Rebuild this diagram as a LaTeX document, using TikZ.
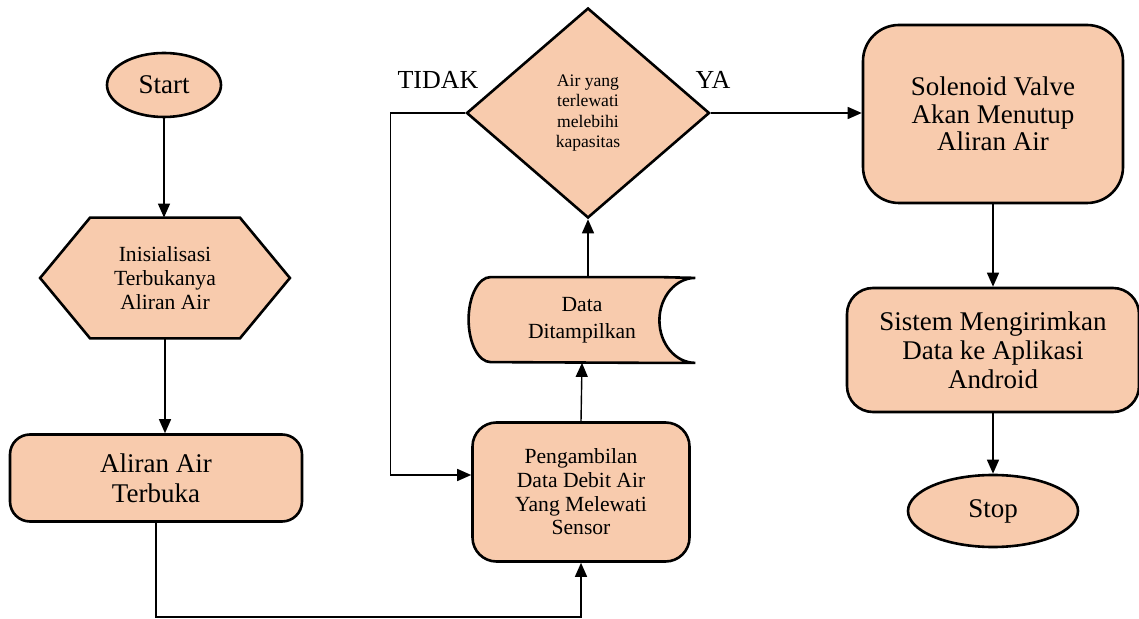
\documentclass[tikz,border=0pt]{standalone}
\usepackage{fontspec}
\setmainfont{Liberation Serif}
\usetikzlibrary{shapes.geometric,arrows.meta,backgrounds}
\definecolor{peach}{HTML}{F8CBAD}

\begin{document}
\begin{tikzpicture}[x=0.5pt,y=-0.5pt,
   shp/.style={draw, line width=1.3pt, fill=peach},
   big/.style={font=\fontsize{13.5}{13.8}\selectfont},
   small/.style={font=\fontsize{10.8}{12}\selectfont},
   terminal/.style={shp, ellipse, inner sep=0pt, big},
   proc/.style={shp, rectangle, align=center, inner sep=0pt},
   arr/.style={draw, line width=0.7pt, -{Triangle[length=7pt,width=6pt]}}]

\useasboundingbox (0,0) rectangle (1139,619);

\node[terminal, minimum width=57pt, minimum height=32pt] (start) at (164,85) {Start};
\node[align=center, inner sep=0pt, minimum width=124.5pt, minimum height=60pt, small] (ini) at (165,278)
    {Inisialisasi\\Terbukanya\\Aliran Air};
\node[proc, rounded corners=10pt, minimum width=146pt, minimum height=43.5pt,
      font=\fontsize{13.5}{14.8}\selectfont] (buka) at (156,478) {Aliran Air\\Terbuka};
\node[proc, rounded corners=12pt, minimum width=108.5pt, minimum height=69.5pt,
      font=\fontsize{10.8}{11.8}\selectfont] (ambil) at (581,492)
    {Pengambilan\\Data Debit Air\\Yang Melewati\\Sensor};
\node[align=center, inner sep=0pt, minimum width=113pt, minimum height=42.5pt,
      font=\fontsize{10.8}{13.5}\selectfont] (tampil) at (582,320) {Data\\Ditampilkan};
\node[shp, diamond, align=center, inner sep=0pt, minimum width=121.5pt, minimum height=105pt,
      font=\fontsize{8.8}{10.3}\selectfont] (cek) at (588,113)
    {Air yang\\terlewati\\melebihi\\kapasitas};
\node[proc, big, rounded corners=18pt, minimum width=130pt, minimum height=89pt] (valve) at (993,114)
    {Solenoid Valve\\Akan Menutup\\Aliran Air};
\node[proc, rounded corners=13pt, minimum width=146pt, minimum height=62pt,
      font=\fontsize{13.5}{14.6}\selectfont] (kirim) at (993,350)
    {Sistem Mengirimkan\\Data ke Aplikasi\\Android};
\node[terminal, minimum width=85pt, minimum height=36pt] (stop) at (993,511) {Stop};

\node[font=\fontsize{13}{14}\selectfont, inner sep=0pt] (tidak) at (438,80) {TIDAK};
\node[font=\fontsize{13}{14}\selectfont, inner sep=0pt] (ya) at (713,80) {YA};

\begin{scope}[on background layer]
  \draw[shp] ([xshift=25pt]ini.north west) -- ([xshift=-25pt]ini.north east) -- (ini.east)
     -- ([xshift=-25pt]ini.south east) -- ([xshift=25pt]ini.south west) -- (ini.west) -- cycle;
  \draw[shp] ([xshift=-18pt]tampil.north east) -- ([xshift=11pt]tampil.north west)
     arc[start angle=90, end angle=270, x radius=11pt, y radius=21.25pt]
     -- ([xshift=-18pt]tampil.south east)
     -- (tampil.south east)
     arc[start angle=270, end angle=90, x radius=18pt, y radius=21.25pt]
     -- cycle;
\end{scope}

\draw[arr] (start.south) -- (start.south |- ini.north);
\draw[arr] (ini.south) -- (ini.south |- buka.north);
\draw[arr] (buka.south) -- ++(0,94) -| (ambil.south);
\draw[arr] (ambil.north) -- (tampil.south);
\draw[arr] (tampil.north -| cek.south) -- (cek.south);
\draw[arr] (cek.west) -- ++(-75,0) |- ([yshift=8.5pt]ambil.west);
\draw[arr] (cek.east) -- (valve.west |- cek.east);
\draw[arr] (valve.south) -- (kirim.north);
\draw[arr] (kirim.south) -- (stop.north);

\end{tikzpicture}
\end{document}
